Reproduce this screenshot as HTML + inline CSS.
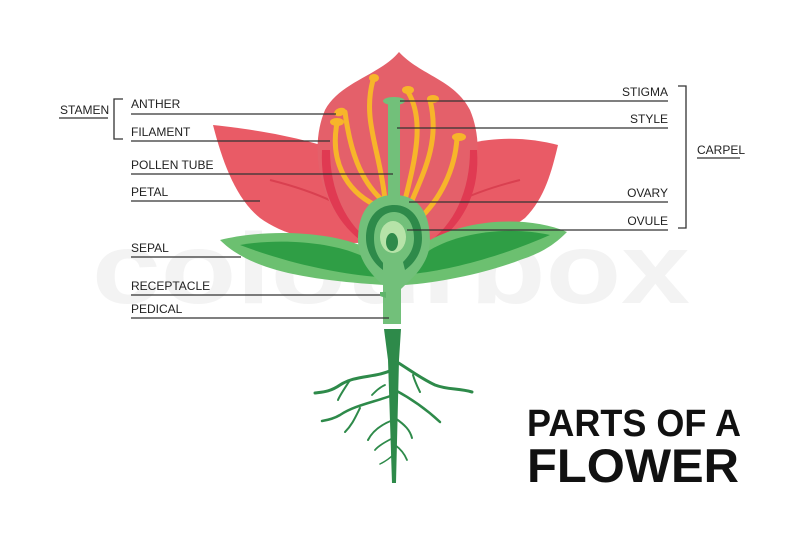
<!DOCTYPE html>
<html><head><style>
html,body{margin:0;padding:0;background:#fff;}
svg{display:block;}
text{font-family:"Liberation Sans",sans-serif;}
</style></head><body>
<svg width="800" height="534" viewBox="0 0 800 534" xmlns="http://www.w3.org/2000/svg">
<!-- watermark -->
<text x="92" y="303" font-size="100" font-weight="bold" fill="#f3f3f3" textLength="598" lengthAdjust="spacingAndGlyphs">colourbox</text>

<!-- side petals -->
<path d="M213,125 C260,130 320,140 360,160 C390,180 395,215 390,240 C340,248 290,240 260,218 C235,198 222,160 213,125 Z" fill="#e95b66"/>
<path d="M558,145 C520,135 470,135 430,160 C400,180 395,215 400,240 C450,248 500,238 525,218 C545,198 552,170 558,145 Z" fill="#e95b66"/>
<path d="M270,180 C310,190 350,205 375,230" stroke="#d94050" stroke-width="2" fill="none"/>
<path d="M520,180 C480,190 440,205 415,230" stroke="#d94050" stroke-width="2" fill="none"/>
<!-- back petal -->
<path d="M399,52 C420,75 455,80 470,110 C485,145 478,195 450,225 C420,245 375,245 345,225 C318,195 310,145 325,110 C340,82 380,75 399,52 Z" fill="#e4606a"/>
<path d="M322,150 C320,190 335,220 360,240 L375,245 C345,225 330,190 330,150 Z" fill="#e03a52"/>
<path d="M477,150 C480,190 465,220 440,240 L425,245 C455,225 470,190 470,150 Z" fill="#e03a52"/>

<!-- stamens -->
<g stroke="#f7b52a" stroke-width="5" fill="none" stroke-linecap="round">
<path d="M337,123 C330,160 345,190 375,205"/>
<path d="M345,112 C350,150 360,180 382,200"/>
<path d="M373,80 C362,120 380,150 385,200"/>
<path d="M408,92 C425,120 415,160 405,200"/>
<path d="M430,100 C440,140 425,170 410,205"/>
<path d="M457,138 C455,170 440,200 418,220"/>
</g>
<g fill="#f7b52a">
<ellipse cx="337" cy="122" rx="7" ry="4"/>
<ellipse cx="340" cy="112" rx="6" ry="4" transform="rotate(-20 340 112)"/>
<ellipse cx="374" cy="78" rx="5" ry="4"/>
<ellipse cx="408" cy="90" rx="6" ry="4"/>
<ellipse cx="433" cy="99" rx="6" ry="4"/>
<ellipse cx="459" cy="137" rx="7" ry="4"/>
</g>

<!-- sepals -->
<path d="M220,240 C260,230 320,230 360,245 C380,255 385,270 385,285 C350,283 300,278 270,268 C245,260 230,250 220,240 Z" fill="#6cc070"/>
<path d="M240,245 C280,238 330,242 360,255 C370,262 375,270 378,277 C340,274 290,264 240,245 Z" fill="#2f9e45"/>
<path d="M567,232 C530,216 470,218 430,240 C410,252 405,268 405,285 C440,283 490,272 520,260 C545,252 557,242 567,232 Z" fill="#6cc070"/>
<path d="M550,235 C510,226 460,232 430,250 C420,258 415,265 412,274 C450,270 500,257 550,235 Z" fill="#2f9e45"/>

<!-- style & stigma -->
<rect x="388" y="103" width="12" height="100" fill="#72c07a"/>
<ellipse cx="394" cy="101" rx="11" ry="4" fill="#72c07a"/>
<!-- ovary -->
<path d="M394,195 C420,195 430,215 430,240 C430,265 410,280 400,290 L388,290 C378,280 358,265 358,240 C358,215 368,195 394,195 Z" fill="#72c07a"/>
<path d="M394,205 C412,205 422,220 422,238 C422,255 412,265 405,270 L403,262 C410,255 414,248 414,238 C414,222 405,212 394,212 C383,212 374,222 374,238 C374,250 378,258 385,265 L383,270 C372,262 366,250 366,238 C366,220 376,205 394,205 Z" fill="#2e8a4a"/>
<ellipse cx="393" cy="237" rx="13" ry="16" fill="#b6e3a8"/>
<ellipse cx="392" cy="242" rx="6" ry="9" fill="#2e8a4a"/>
<!-- stem -->
<rect x="383" y="262" width="18" height="62" fill="#72c07a"/>
<path d="M380,292 L386,292 L386,298 L380,296 Z" fill="#5fb46a"/>
<!-- root stem -->
<path d="M384,329 L401,329 L399,360 L396,483 L392,483 L388,360 Z" fill="#2e8a4a"/>
<g stroke="#2e8a4a" fill="none" stroke-linecap="round">
<path d="M392,370 C375,378 355,375 340,385 C330,392 322,392 315,393" stroke-width="3"/>
<path d="M350,380 C345,388 340,395 338,400" stroke-width="2"/>
<path d="M397,362 C410,370 420,378 435,385 C448,390 458,388 472,392" stroke-width="3"/>
<path d="M413,375 C415,382 418,388 420,392" stroke-width="2"/>
<path d="M393,395 C375,402 355,405 340,415 C335,418 328,420 322,421" stroke-width="2.5"/>
<path d="M360,408 C355,418 352,425 345,432" stroke-width="2"/>
<path d="M395,390 C410,398 425,408 440,422" stroke-width="2.5"/>
<path d="M393,420 C380,425 372,432 368,440" stroke-width="2"/>
<path d="M395,418 C405,425 410,430 412,438" stroke-width="2"/>
<path d="M393,438 C385,442 378,446 375,450" stroke-width="1.8"/>
<path d="M395,445 C402,450 405,455 407,460" stroke-width="1.8"/>
<path d="M385,385 C378,388 375,392 372,395" stroke-width="1.8"/>
<path d="M393,455 C388,460 384,462 380,464" stroke-width="1.5"/>
</g>

<!-- label lines -->
<g stroke="#333" stroke-width="1.3" fill="none">
<line x1="131" y1="114" x2="336" y2="114"/>
<line x1="131" y1="141" x2="330" y2="141"/>
<line x1="131" y1="174" x2="393" y2="174"/>
<line x1="131" y1="201" x2="260" y2="201"/>
<line x1="131" y1="257" x2="241" y2="257"/>
<line x1="131" y1="295" x2="380" y2="295"/>
<line x1="131" y1="318" x2="389" y2="318"/>
<line x1="59" y1="118" x2="108" y2="118"/>
<path d="M123,99 L114,99 L114,139 L123,139"/>
<line x1="400" y1="101" x2="668" y2="101"/>
<line x1="397" y1="128" x2="668" y2="128"/>
<line x1="409" y1="202" x2="668" y2="202"/>
<line x1="407" y1="230" x2="668" y2="230"/>
<path d="M678,86 L686,86 L686,228 L678,228"/>
<line x1="697" y1="158" x2="740" y2="158"/>
</g>
<g font-size="12" fill="#222">
<text x="60" y="114">STAMEN</text>
<text x="131" y="108">ANTHER</text>
<text x="131" y="136">FILAMENT</text>
<text x="131" y="169">POLLEN TUBE</text>
<text x="131" y="196">PETAL</text>
<text x="131" y="252">SEPAL</text>
<text x="131" y="290">RECEPTACLE</text>
<text x="131" y="313">PEDICAL</text>
<text x="668" y="96" text-anchor="end">STIGMA</text>
<text x="668" y="123" text-anchor="end">STYLE</text>
<text x="668" y="197" text-anchor="end">OVARY</text>
<text x="668" y="225" text-anchor="end">OVULE</text>
<text x="697" y="154">CARPEL</text>
</g>
<text x="527" y="436" font-size="38" font-weight="bold" fill="#111" textLength="214" lengthAdjust="spacingAndGlyphs">PARTS OF A</text>
<text x="527" y="482" font-size="47" font-weight="bold" fill="#111" textLength="212" lengthAdjust="spacingAndGlyphs">FLOWER</text>
</svg>
</body></html>
